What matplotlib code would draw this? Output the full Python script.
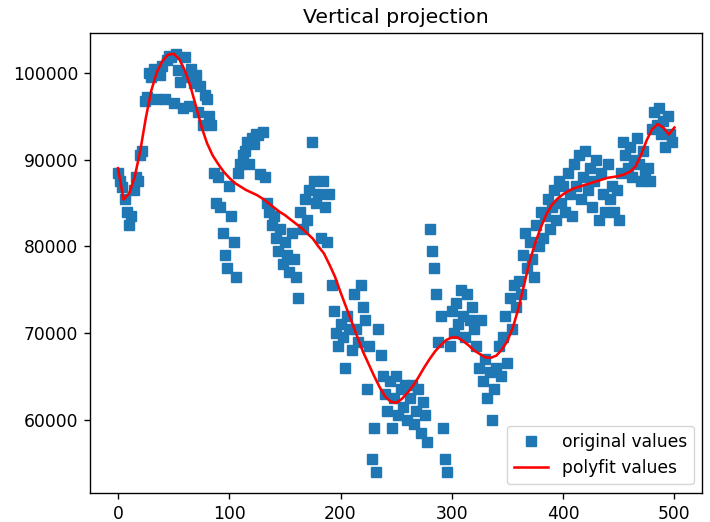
import numpy as np
import matplotlib
matplotlib.use('Agg')
import matplotlib.pyplot as plt

# column index of the projection (every second column)
x = np.arange(0, 500, 2)

# projected values in blocks of 20 columns
y_000 = [88500, 87500, 86800, 85500, 84000, 82500, 83500, 86500, 88000, 87500]
y_020 = [90500, 91000, 96800, 97200, 100000, 99500, 100500, 97000, 100200, 99800]
y_040 = [100800, 97000, 101500, 102000, 101800, 96500, 102200, 100300, 99000, 96000]
y_060 = [101800, 99500, 96200, 100500, 98800, 99800, 95500, 98500, 94000, 97500]
y_080 = [97000, 95000, 94000, 88500, 85000, 88000, 84500, 81500, 79000, 77500]
y_100 = [87000, 83500, 80500, 76500, 88500, 89500, 90500, 91000, 92000, 89500]
y_120 = [92500, 91800, 93000, 92800, 88300, 93200, 88000, 85000, 84000, 82500]
y_140 = [83500, 81000, 79500, 82000, 78000, 80500, 79000, 77000, 81500, 78500]
y_160 = [76500, 74000, 84000, 82000, 85500, 83000, 86500, 92000, 87500, 85000]
y_180 = [86000, 81000, 87500, 84500, 80500, 86000, 75500, 72500, 70000, 68500]
y_200 = [71000, 69500, 66000, 72000, 70500, 68000, 74500, 70500, 69000, 75500]
y_220 = [73000, 71500, 63500, 68500, 55500, 59000, 54000, 70500, 67500, 65000]
y_240 = [63000, 61000, 64500, 59000, 62500, 65000, 60500, 63500, 61500, 64000]
y_260 = [60000, 62500, 64000, 59500, 61000, 63500, 58500, 62000, 60500, 57500]
y_280 = [82000, 79500, 77500, 74500, 69000, 72000, 59000, 55500, 54000, 68500]
y_300 = [72500, 70000, 73500, 71000, 75000, 72000, 69500, 74500, 71500, 73000]
y_320 = [70500, 68500, 66000, 71500, 64500, 67000, 62500, 65500, 60000, 63500]
y_340 = [66000, 68500, 65000, 69500, 72000, 66500, 74000, 70500, 75500, 73000]
y_360 = [76000, 74500, 79000, 81500, 77500, 80500, 78500, 76500, 82500, 80000]
y_380 = [84000, 81000, 83500, 85500, 82000, 84500, 86500, 83000, 87500, 85000]
y_400 = [87000, 84000, 88500, 86000, 83500, 89500, 87000, 90500, 85500, 88000]
y_420 = [91000, 86500, 89000, 84500, 87500, 90000, 83000, 88500, 86000, 84000]
y_440 = [89500, 85500, 87000, 84000, 86500, 83000, 88500, 92000, 90500, 89000]
y_460 = [91500, 88000, 90000, 92500, 89500, 87500, 91000, 88500, 89000, 87500]
y_480 = [93500, 95500, 94000, 96000, 93000, 94500, 91500, 95000, 93000, 92000]

y = np.array(y_000 + y_020 + y_040 + y_060 + y_080 + y_100 + y_120 + y_140 +
             y_160 + y_180 + y_200 + y_220 + y_240 + y_260 + y_280 + y_300 +
             y_320 + y_340 + y_360 + y_380 + y_400 + y_420 + y_440 + y_460 +
             y_480)

# red polyfit curve, read every 5 columns
fit_x = np.arange(0, 501, 5)
fit_y = [89000, 85400, 86100, 88000, 91000, 94800, 98000, 100100, 101400, 102100,
         102200, 101600, 100300, 98500, 96200, 93800, 91900, 90500, 89500, 88600,
         87900, 87300, 86900, 86500, 86200, 85900, 85500, 85000, 84500, 84000,
         83600, 83100, 82600, 82100, 81500, 80900, 80000, 79200, 77900, 76500,
         74700, 73000, 71300, 69600, 67900, 66500, 65100, 63800, 62700, 62100,
         61950, 62400, 63100, 63900, 64900, 66000, 67000, 67900, 68600, 69200,
         69500, 69500, 69100, 68600, 68000, 67600, 67200, 67150, 67400, 68100,
         69100, 70700, 72900, 75600, 78300, 80400, 82200, 83700, 84800, 85500,
         86000, 86400, 86700, 86900, 87100, 87300, 87500, 87700, 87900, 88000,
         88100, 88300, 88600, 89200, 90500, 92200, 93500, 94100, 93700, 92900,
         93700]

s = 1.23  # the reference is an enlarged default figure
plt.rcParams.update({
    'font.size': 10 * s,
    'axes.linewidth': 0.8 * s,
    'xtick.major.width': 0.8 * s,
    'ytick.major.width': 0.8 * s,
    'xtick.major.size': 3.5 * s,
    'ytick.major.size': 3.5 * s,
    'xtick.major.pad': 3.5 * s,
    'ytick.major.pad': 3.5 * s,
})

fig = plt.figure(figsize=(7.1, 5.22), dpi=100)
ax = fig.add_axes([0.127, 0.056, 0.862, 0.881])
ax.plot(x, y, 's', markersize=6 * s, label='original values')
ax.plot(fit_x, fit_y, 'r', linewidth=1.5 * s, label='polyfit values')
ax.set_title('Vertical projection', pad=6 * s)
ax.legend(loc=4)
fig.savefig('out.png', dpi=100)
